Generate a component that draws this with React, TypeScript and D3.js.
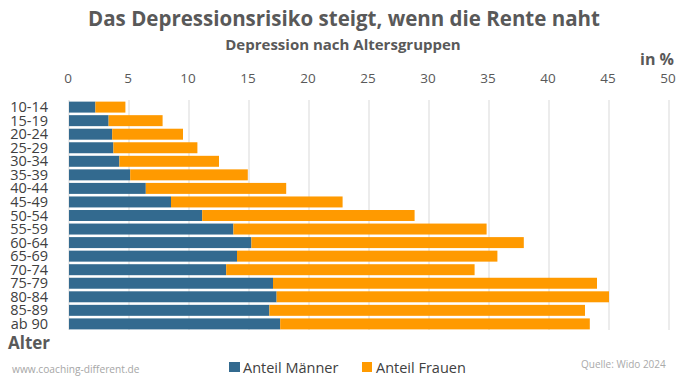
import React from "react";
import * as d3 from "d3";

const categories = ["10-14","15-19","20-24","25-29","30-34","35-39","40-44","45-49","50-54","55-59","60-64","65-69","70-74","75-79","80-84","85-89","ab 90"];
const maenner = [2.2, 3.3, 3.6, 3.7, 4.2, 5.1, 6.4, 8.5, 11.1, 13.7, 15.2, 14.0, 13.1, 17.0, 17.3, 16.7, 17.6];
const frauen = [2.5, 4.5, 5.9, 7.0, 8.3, 9.8, 11.7, 14.3, 17.7, 21.1, 22.7, 21.7, 20.7, 27.0, 27.7, 26.3, 25.8];
const ticks = [0, 5, 10, 15, 20, 25, 30, 35, 40, 45, 50];
const seriesNames = ["Anteil Männer", "Anteil Frauen"];
const colors = ["#336a8f", "#ff9a00"];

const FONT = "'Open Sans', 'Noto Sans', sans-serif";

export default function App() {
  const W = 700, H = 382;
  const x = d3.scaleLinear().domain([0, 50]).range([69, 669]);
  const y = d3.scaleBand().domain(categories).range([100.4, 330.6]).paddingInner(0.19).paddingOuter(0.09);
  const data = categories.map((c, i) => ({ c, m: maenner[i], f: frauen[i] }));
  const stack = d3.stack<any>().keys(["m", "f"])(data);
  return (
    <svg width={W} height={H} style={{ position: "absolute", left: 0, top: 0, background: "#fff" }} fontFamily={FONT}>
      <rect width={W} height={H} fill="#fff" />
      <text x={344} y={26} textAnchor="middle" fontSize={20.5} fontWeight="bold" fill="#595959">Das Depressionsrisiko steigt, wenn die Rente naht</text>
      <text x={343} y={50} textAnchor="middle" fontSize={15} fontWeight="bold" fill="#595959">Depression nach Altersgruppen</text>
      <text x={674} y={65} textAnchor="end" fontSize={16} fontWeight="bold" fill="#595959">in %</text>
      {ticks.map(t => (
        <g key={t}>
          <line x1={x(t)} x2={x(t)} y1={100} y2={330} stroke="#d9d9d9" strokeWidth={1} />
          <text x={x(t) - 1} y={83} textAnchor="middle" fontSize={13.5} fill="#595959">{t}</text>
        </g>
      ))}
      {stack.map((layer, li) => (
        <g key={li} fill={colors[li]}>
          {layer.map((d, i) => (
            <rect key={i} x={x(d[0])} width={x(d[1]) - x(d[0])} y={y(categories[i])} height={y.bandwidth()} />
          ))}
        </g>
      ))}
      {categories.map(c => (
        <text key={c} x={48} y={(y(c) as number) + y.bandwidth() / 2 + 5} textAnchor="end" fontSize={14.5} fill="#404040">{c}</text>
      ))}
      <text x={8} y={349} fontSize={17} fontWeight="bold" fill="#595959">Alter</text>
      <text x={12} y={373} fontSize={10.2} fill="#a6a6a6">www.coaching-different.de</text>
      <rect x={229} y={362} width={11} height={10} fill={colors[0]} />
      <text x={243} y={372.5} fontSize={14.5} fill="#404040">{seriesNames[0]}</text>
      <rect x={362} y={362} width={10} height={10} fill={colors[1]} />
      <text x={376} y={372.5} fontSize={14.5} fill="#404040">{seriesNames[1]}</text>
      <text x={581} y={367.5} fontSize={10} fill="#aaaaaa">Quelle: Wido 2024</text>
    </svg>
  );
}
